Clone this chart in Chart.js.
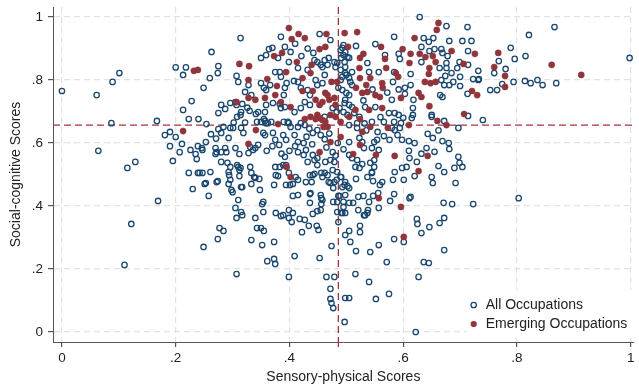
<!DOCTYPE html>
<html><head><meta charset="utf-8">
<script src="https://cdn.jsdelivr.net/npm/chart.js@4"></script>
<style>html,body{margin:0;padding:0;background:#fff}#wrap{width:639px;height:387px;position:relative}</style>
</head><body><div id="wrap"><canvas id="c"></canvas></div>
<script>
const seriesLabels = ['All Occupations', 'Emerging Occupations'];
const xAxisTitle = 'Sensory-physical Scores';
const yAxisTitle = 'Social-cognitive Scores';
const xTickValues = [0, 0.2, 0.4, 0.6, 0.8, 1];
const yTickValues = [0, 0.2, 0.4, 0.6, 0.8, 1];
const meanSensory = 0.486;
const meanSocial = 0.657;

const allOccupations = [
[0.000,0.765],[0.061,0.752],[0.064,0.575],[0.089,0.794],[0.087,0.663],[0.101,0.822],[0.115,0.521],[0.129,0.540],[0.167,0.670],[0.200,0.840],[0.218,0.840],[0.213,0.816],[0.263,0.889],[0.249,0.775],[0.260,0.806],[0.275,0.844],[0.274,0.822],[0.228,0.733],[0.213,0.705],[0.223,0.676],[0.240,0.676],[0.254,0.660],[0.181,0.625],[0.190,0.635],[0.200,0.619],[0.190,0.590],[0.211,0.597],[0.226,0.578],[0.239,0.590],[0.207,0.571],[0.235,0.565],[0.237,0.549],[0.247,0.578],[0.195,0.543],[0.169,0.416],[0.122,0.343],[0.110,0.213],[0.223,0.505],[0.242,0.505],
[0.239,0.505],[0.247,0.505],[0.261,0.508],[0.293,0.508],[0.312,0.514],[0.294,0.498],[0.312,0.495],[0.333,0.505],[0.338,0.492],[0.347,0.486],[0.376,0.498],[0.380,0.495],[0.399,0.505],[0.411,0.492],[0.401,0.467],[0.406,0.470],[0.429,0.476],[0.439,0.476],[0.441,0.498],[0.444,0.502],[0.456,0.505],[0.458,0.492],[0.469,0.476],[0.472,0.473],[0.479,0.476],[0.483,0.483],[0.491,0.492],[0.497,0.467],[0.498,0.476],
[0.230,0.454],[0.251,0.470],[0.274,0.479],[0.293,0.470],[0.298,0.451],[0.300,0.444],[0.317,0.460],[0.333,0.470],[0.348,0.451],[0.373,0.467],
[0.258,0.432],[0.310,0.419],[0.354,0.413],[0.352,0.406],
[0.406,0.432],[0.415,0.435],[0.436,0.438],[0.456,0.425],[0.436,0.410],[0.456,0.406],[0.477,0.413],[0.486,0.432],[0.498,0.435],
[0.307,0.362],[0.317,0.371],[0.340,0.362],[0.343,0.330],[0.350,0.330],[0.355,0.321],
[0.277,0.330],[0.284,0.321],[0.274,0.295],[0.249,0.270],
[0.333,0.292],[0.352,0.276],[0.373,0.286],
[0.376,0.378],[0.385,0.368],[0.399,0.387],[0.406,0.378],[0.399,0.362],[0.404,0.349],[0.418,0.359],[0.427,0.356],[0.434,0.337],[0.422,0.317],[0.441,0.375],[0.449,0.384],[0.455,0.387],[0.448,0.337],[0.451,0.324],
[0.484,0.381],[0.491,0.378],[0.486,0.349],[0.495,0.397],
[0.361,0.225],[0.373,0.232],[0.375,0.216],[0.409,0.241],[0.453,0.235],[0.474,0.273],
[0.307,0.184],[0.399,0.175],[0.465,0.175],[0.479,0.175],
[0.472,0.137],[0.472,0.105],[0.474,0.092],[0.477,0.076],[0.497,0.032],[0.498,0.108],[0.498,0.308],
[0.505,0.321],[0.524,0.337],[0.524,0.317],[0.507,0.286],[0.531,0.371],[0.517,0.257],[0.542,0.254],[0.557,0.276],[0.584,0.295],[0.601,0.286],[0.571,0.222],[0.516,0.184],[0.540,0.159],[0.505,0.108],[0.552,0.105],[0.575,0.121],[0.622,0.000],
[0.624,0.359],[0.625,0.343],[0.646,0.333],[0.632,0.314],[0.664,0.346],[0.672,0.362],[0.672,0.260],[0.636,0.222],[0.645,0.219],[0.627,0.175],
[0.490,0.492],[0.493,0.460],[0.502,0.463],[0.505,0.457],[0.477,0.457],[0.488,0.432],[0.495,0.413],[0.505,0.410],[0.493,0.378],[0.498,0.378],
[0.517,0.486],[0.537,0.492],[0.545,0.505],[0.547,0.479],[0.559,0.467],[0.563,0.476],[0.582,0.483],[0.601,0.483],[0.620,0.495],[0.650,0.492],[0.652,0.473],[0.692,0.473],
[0.521,0.429],[0.512,0.410],[0.530,0.432],[0.547,0.432],[0.540,0.413],[0.556,0.441],[0.557,0.394],[0.577,0.416],[0.584,0.438],[0.613,0.429],[0.521,0.387],[0.533,0.371],[0.537,0.378],[0.538,0.387],
[0.671,0.410],[0.686,0.406],[0.723,0.406],[0.803,0.425],[0.611,0.425],
[0.340,0.584],[0.336,0.578],[0.275,0.644],[0.284,0.651],[0.280,0.632],[0.293,0.616],[0.296,0.648],[0.301,0.648],[0.315,0.648],[0.319,0.632],
[0.350,0.667],[0.357,0.670],[0.362,0.663],[0.368,0.667],[0.354,0.632],[0.357,0.625],[0.371,0.632],[0.375,0.610],[0.389,0.625],[0.394,0.610],[0.382,0.594],
[0.397,0.667],[0.402,0.651],[0.415,0.651],[0.420,0.663],[0.427,0.657],[0.409,0.625],[0.415,0.603],[0.425,0.600],[0.429,0.578],
[0.441,0.632],[0.449,0.641],[0.455,0.625],[0.476,0.571],
[0.246,0.584],[0.253,0.603],[0.270,0.584],[0.272,0.571],[0.287,0.584],[0.289,0.571],[0.305,0.584],
[0.280,0.540],[0.296,0.524],[0.296,0.483],[0.310,0.524],[0.314,0.521],[0.331,0.524],[0.340,0.489],
[0.253,0.473],[0.272,0.476],[0.315,0.460],
[0.375,0.524],[0.383,0.524],[0.389,0.530],[0.394,0.530],[0.392,0.556],[0.394,0.467],[0.415,0.483],
[0.415,0.571],[0.425,0.562],[0.432,0.540],[0.441,0.562],[0.444,0.546],[0.449,0.552],[0.463,0.540],[0.472,0.546],[0.479,0.540],[0.449,0.530],[0.436,0.498],[0.462,0.505],[0.467,0.498],[0.476,0.514],[0.484,0.508],
[0.437,0.441],[0.455,0.435],[0.458,0.419],[0.484,0.413],
[0.305,0.394],[0.315,0.381],[0.354,0.381],[0.389,0.371],
[0.291,0.537],[0.280,0.571],[0.270,0.565],[0.312,0.565],[0.328,0.568],[0.308,0.530],[0.331,0.587],[0.345,0.594],
[0.505,0.657],[0.519,0.663],[0.519,0.648],[0.545,0.667],[0.566,0.667],[0.584,0.667],[0.596,0.663],[0.580,0.648],[0.585,0.641],[0.594,0.648],[0.615,0.679],[0.650,0.683],[0.672,0.670],[0.697,0.648],[0.740,0.673],
[0.505,0.603],[0.523,0.616],[0.528,0.603],[0.531,0.584],[0.549,0.603],[0.554,0.610],[0.545,0.584],[0.557,0.578],[0.598,0.610],[0.610,0.606],[0.643,0.629],[0.652,0.616],[0.669,0.606],[0.641,0.584],[0.681,0.581],
[0.505,0.562],[0.510,0.552],[0.519,0.546],[0.549,0.546],[0.542,0.537],[0.610,0.575],[0.611,0.552],[0.624,0.540],[0.662,0.527],[0.697,0.556],[0.704,0.524],
[0.516,0.524],[0.523,0.521],[0.528,0.533],[0.545,0.508],[0.549,0.524],[0.585,0.508],[0.598,0.521],[0.606,0.524],[0.672,0.508],[0.690,0.521],[0.699,0.537],
[0.314,0.933],[0.385,0.937],[0.392,0.905],[0.364,0.898],[0.350,0.870],[0.359,0.879],[0.380,0.870],[0.453,0.946],[0.472,0.927],[0.490,0.895],[0.495,0.911],[0.399,0.857],
[0.307,0.813],[0.310,0.794],[0.328,0.784],[0.350,0.790],[0.355,0.775],[0.359,0.768],[0.366,0.784],
[0.415,0.838],[0.375,0.825],[0.383,0.825],[0.385,0.810],[0.432,0.832],[0.408,0.797],[0.415,0.794],[0.395,0.790],
[0.444,0.863],[0.449,0.857],[0.455,0.848],[0.462,0.863],[0.469,0.870],[0.458,0.841],[0.467,0.848],[0.479,0.857],[0.481,0.841],[0.446,0.800],[0.462,0.816],[0.449,0.784],[0.458,0.790],[0.490,0.800],[0.484,0.854],
[0.322,0.762],[0.333,0.752],[0.390,0.752],[0.392,0.775],
[0.296,0.727],[0.305,0.730],[0.307,0.721],[0.280,0.721],[0.287,0.708],[0.275,0.695],[0.315,0.698],[0.314,0.689],[0.341,0.692],[0.345,0.698],[0.357,0.698],[0.359,0.721],
[0.371,0.727],[0.383,0.724],[0.385,0.711],[0.392,0.714],[0.409,0.698],[0.420,0.711],[0.427,0.730],[0.436,0.721],
[0.432,0.768],[0.420,0.775],[0.436,0.752],[0.497,0.727],[0.498,0.737],[0.462,0.683],
[0.317,0.724],[0.308,0.683],[0.343,0.667],[0.355,0.676],[0.359,0.663],[0.390,0.667],[0.399,0.663],
[0.493,0.902],[0.498,0.889],[0.491,0.870],[0.497,0.857],[0.490,0.832],[0.498,0.822],[0.493,0.810],[0.486,0.775],[0.493,0.768],[0.500,0.759],[0.488,0.711],[0.495,0.698],[0.502,0.689],[0.476,0.711],[0.483,0.698],[0.500,0.816],[0.505,0.806],[0.510,0.825],
[0.629,1.000],[0.676,0.971],[0.713,0.968],[0.584,0.937],[0.636,0.933],[0.645,0.921],[0.653,0.933],[0.681,0.924],[0.704,0.924],[0.720,0.924],[0.714,0.892],[0.517,0.908],[0.551,0.914],[0.632,0.905],[0.646,0.892],[0.655,0.898],[0.667,0.898],[0.669,0.886],[0.678,0.876],
[0.495,0.879],[0.502,0.873],[0.505,0.870],[0.537,0.854],[0.568,0.879],[0.592,0.883],[0.594,0.867],[0.632,0.857],
[0.676,0.854],[0.676,0.838],[0.699,0.857],[0.695,0.838],[0.714,0.848],[0.732,0.829],[0.733,0.803],[0.760,0.822],
[0.498,0.841],[0.540,0.825],[0.557,0.825],[0.584,0.825],[0.613,0.819],[0.664,0.838],[0.674,0.813],[0.667,0.800],[0.685,0.822],[0.688,0.794],[0.700,0.810],
[0.507,0.794],[0.510,0.784],[0.582,0.794],[0.603,0.775],[0.613,0.784],[0.672,0.784],[0.681,0.784],[0.700,0.781],[0.713,0.756],[0.753,0.768],[0.765,0.768],
[0.505,0.752],[0.580,0.737],[0.603,0.756],[0.618,0.737],[0.665,0.752],[0.669,0.746],
[0.505,0.721],[0.510,0.714],[0.533,0.714],[0.551,0.714],[0.585,0.695],[0.617,0.711],[0.650,0.689],[0.617,0.689],[0.714,0.686],
[0.514,0.695],[0.523,0.683],[0.575,0.695],[0.592,0.689],
[0.866,0.968],[0.821,0.943],[0.789,0.902],[0.796,0.867],[0.815,0.876],[0.768,0.860],[0.780,0.835],[0.794,0.794],[0.814,0.797],[0.824,0.790],[0.836,0.800],[0.845,0.784],[0.869,0.790],[0.998,0.870],[0.774,0.787],[0.723,0.803],[0.732,0.800],
[0.430,0.620],[0.462,0.612],[0.470,0.630],[0.440,0.596],[0.465,0.586],[0.485,0.600],[0.495,0.580],[0.481,0.560],[0.435,0.645],
[0.535,0.640],[0.555,0.635],[0.566,0.622],[0.576,0.610],[0.590,0.625],[0.560,0.682],[0.600,0.680],[0.532,0.662],
[0.360,0.575],[0.370,0.590],[0.400,0.575],[0.410,0.590],[0.386,0.566],
[0.262,0.628],[0.271,0.614],[0.302,0.665],[0.322,0.665],[0.330,0.702],[0.326,0.712],
[0.530,0.735],[0.546,0.770],[0.572,0.760],[0.592,0.770],
[0.620,0.600],[0.632,0.566],[0.655,0.572],[0.680,0.600],[0.662,0.640],
[0.370,0.902],[0.402,0.889],[0.421,0.876],[0.432,0.900],[0.442,0.886],[0.410,0.915]
];

const emergingOccupations = [
[0.232,0.829],[0.239,0.832],[0.213,0.638],
[0.399,0.965],[0.404,0.930],[0.416,0.946],[0.427,0.933],[0.373,0.876],[0.387,0.886],[0.465,0.946],[0.463,0.905],[0.453,0.898],[0.497,0.949],[0.312,0.851],[0.329,0.844],[0.328,0.800],[0.361,0.803],[0.378,0.781],[0.413,0.857],[0.394,0.825],[0.423,0.806],[0.439,0.848],[0.437,0.822],[0.474,0.794],[0.328,0.743],[0.340,0.737],[0.357,0.743],[0.375,0.752],[0.307,0.730],[0.385,0.730],[0.402,0.714],[0.446,0.737],[0.453,0.721],[0.458,0.730],[0.467,0.752],[0.470,0.737],[0.479,0.743],[0.481,0.721],[0.423,0.765],[0.441,0.765],[0.463,0.759],[0.484,0.794],[0.472,0.689],[0.449,0.689],
[0.380,0.660],[0.341,0.641],[0.328,0.597],[0.395,0.524],[0.402,0.492],
[0.427,0.676],[0.437,0.683],[0.446,0.676],[0.453,0.679],[0.458,0.673],[0.463,0.667],[0.460,0.651],[0.467,0.651],[0.481,0.683],[0.490,0.667],[0.490,0.619],[0.472,0.603],[0.453,0.571],
[0.505,0.683],[0.524,0.676],[0.542,0.651],[0.528,0.635],[0.573,0.648],[0.610,0.657],[0.660,0.670],[0.676,0.657],[0.524,0.594],[0.512,0.565],[0.552,0.562],[0.585,0.559],[0.643,0.559],[0.627,0.511],[0.557,0.425],[0.596,0.397],[0.601,0.302],
[0.662,0.981],[0.659,0.959],[0.519,0.952],[0.620,0.933],[0.726,0.883],[0.767,0.886],[0.503,0.905],[0.561,0.905],[0.599,0.898],[0.685,0.892],[0.530,0.883],[0.524,0.870],[0.568,0.867],[0.613,0.883],[0.629,0.883],[0.639,0.873],[0.652,0.876],[0.611,0.854],[0.657,0.857],[0.706,0.851],[0.760,0.841],[0.523,0.838],[0.570,0.838],[0.587,0.822],[0.591,0.810],[0.646,0.838],[0.645,0.819],[0.524,0.806],[0.542,0.806],[0.563,0.790],[0.638,0.794],[0.648,0.790],[0.657,0.794],[0.721,0.765],[0.730,0.752],[0.535,0.784],[0.537,0.762],[0.528,0.759],[0.517,0.775],[0.551,0.752],[0.559,0.746],[0.564,0.775],[0.596,0.743],[0.627,0.759],[0.632,0.746],[0.646,0.717],[0.516,0.705],[0.540,0.705],[0.563,0.711],[0.707,0.692],
[0.779,0.813],[0.779,0.778],[0.861,0.848],[0.913,0.816]
];

const FONT = "'Liberation Sans', Arial, Helvetica, sans-serif";
const BLUE = '#1a476f';
const RED = '#90353b';
const REFCOL = '#a8323c';
const fmtTick = v => v === 0 ? '0' : (v === 1 ? '1' : String(Number(v.toFixed(1))).replace(/^0/, ''));

Chart.defaults.font.family = FONT;

const refLines = {
  id: 'refLines',
  beforeDatasetsDraw(chart) {
    const {ctx, chartArea: a, scales: {x, y}} = chart;
    const px = x.getPixelForValue(meanSensory);
    const py = y.getPixelForValue(meanSocial);
    ctx.save();
    ctx.strokeStyle = REFCOL;
    ctx.lineWidth = 1.3;
    ctx.setLineDash([7, 4]);
    ctx.beginPath();
    ctx.moveTo(a.left, py); ctx.lineTo(a.right, py);
    ctx.moveTo(px, a.top); ctx.lineTo(px, a.bottom);
    ctx.stroke();
    ctx.setLineDash([]);
    ctx.beginPath();
    ctx.moveTo(px, a.bottom); ctx.lineTo(px, a.bottom + 5);
    ctx.stroke();
    ctx.restore();
  }
};

const innerLegend = {
  id: 'innerLegend',
  afterDatasetsDraw(chart) {
    const {ctx, chartArea: a} = chart;
    const left = a.right - 167, top = a.bottom - 52;
    ctx.save();
    ctx.fillStyle = '#ffffff';
    ctx.fillRect(left, top, a.right - left, 48);
    const mx = a.right - 160;
    const rows = [a.bottom - 37, a.bottom - 18];
    ctx.lineWidth = 1.3;
    ctx.strokeStyle = BLUE;
    ctx.beginPath(); ctx.arc(mx, rows[0], 2.7, 0, Math.PI * 2); ctx.stroke();
    ctx.fillStyle = RED;
    ctx.beginPath(); ctx.arc(mx, rows[1], 3.1, 0, Math.PI * 2); ctx.fill();
    ctx.fillStyle = '#222222';
    ctx.font = '14px ' + FONT;
    ctx.textBaseline = 'middle';
    ctx.textAlign = 'left';
    ctx.fillText(seriesLabels[0], mx + 12, rows[0] + 0.5);
    ctx.fillText(seriesLabels[1], mx + 12, rows[1] + 0.5);
    ctx.restore();
  }
};

new Chart(document.getElementById('c'), {
  type: 'scatter',
  data: {
    datasets: [
      {
        label: seriesLabels[0],
        data: allOccupations.map(([x, y]) => ({x, y})),
        pointRadius: 2.7,
        pointBorderWidth: 1.3,
        pointBorderColor: BLUE,
        pointBackgroundColor: 'rgba(255,255,255,0)',
        order: 1
      },
      {
        label: seriesLabels[1],
        data: emergingOccupations.map(([x, y]) => ({x, y})),
        pointRadius: 3.1,
        pointBorderWidth: 0.5,
        pointBorderColor: RED,
        pointBackgroundColor: RED,
        order: 0
      }
    ]
  },
  options: {
    responsive: true,
    maintainAspectRatio: false,
    animation: false,
    devicePixelRatio: 1,
    layout: {padding: {top: 7, right: 0, bottom: 0, left: 0}},
    plugins: {legend: {display: false}, tooltip: {enabled: false}},
    scales: {
      x: {
        type: 'linear',
        min: -0.0157,
        max: 1.0052,
        afterBuildTicks: s => { s.ticks = xTickValues.map(v => ({value: v})); },
        afterFit: s => { s.height = 45; s.paddingLeft = 0; s.paddingRight = 0; },
        ticks: {callback: v => fmtTick(v), color: '#222', font: {size: 13.5}, padding: 3, maxRotation: 0, autoSkip: false},
        grid: {color: '#e2e2e2', lineWidth: 1.2, tickColor: '#555', tickLength: 5},
        border: {color: '#555', width: 1, dash: [6, 4]},
        title: {display: true, text: xAxisTitle, color: '#222', font: {size: 14}, padding: {top: 0, bottom: 1}}
      },
      y: {
        type: 'linear',
        min: -0.0317,
        max: 1.0317,
        afterBuildTicks: s => { s.ticks = yTickValues.map(v => ({value: v})); },
        afterFit: s => { s.width = 53; s.paddingTop = 0; s.paddingBottom = 0; },
        ticks: {callback: v => fmtTick(v), color: '#222', font: {size: 13.5}, padding: 5, autoSkip: false},
        grid: {color: '#e2e2e2', lineWidth: 1.2, tickColor: '#555', tickLength: 5},
        border: {color: '#555', width: 1, dash: [6, 4]},
        title: {display: true, text: yAxisTitle, color: '#222', font: {size: 14}, padding: {top: 8, bottom: 0}}
      }
    }
  },
  plugins: [refLines, innerLegend]
});
</script>
</body></html>
